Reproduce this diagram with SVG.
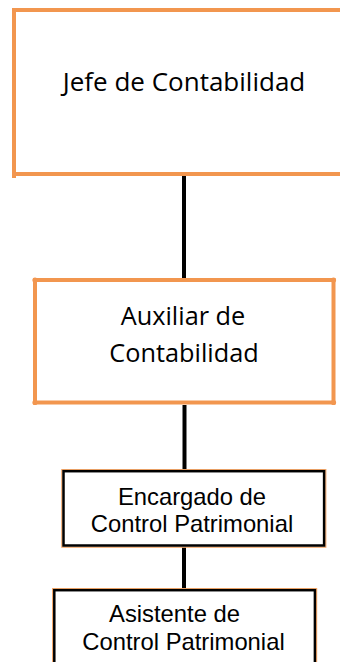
<svg xmlns="http://www.w3.org/2000/svg" width="340" height="662" viewBox="0 0 340 662">
  <style>
    .obox { fill: #ffffff; stroke: #f2964f; stroke-width: 4; }
    .dot { fill: #f2964f; }
    .outline { fill: #ffffff; stroke: #f5a86a; stroke-width: 1.2; }
    .bbox { fill: #ffffff; stroke: #000000; stroke-width: 2.5; }
    .cal { font-family: "Open Sans", "Noto Sans", sans-serif; font-size: 25.3px; fill: #000000; text-anchor: middle; }
    .ari { font-family: "Liberation Sans", Arial, sans-serif; font-size: 23.8px; fill: #000000; text-anchor: middle; }
    .conn { stroke: #000000; stroke-width: 4; fill: none; }
  </style>
  <rect width="340" height="662" fill="#ffffff"/>
  <g id="connectors">
    <line class="conn" x1="184" y1="176" x2="184" y2="278"/>
    <line class="conn" x1="184.5" y1="405" x2="184.5" y2="469"/>
    <line class="conn" x1="184" y1="547" x2="184" y2="588"/>
  </g>
  <g id="node-jefe">
    <rect class="obox" x="14" y="10" width="342" height="164" fill="#fcfefc"/>
    <rect class="dot" x="12" y="172" width="4" height="6"/>
    <text class="cal" x="184" y="91" style="font-size:26px">Jefe de Contabilidad</text>
  </g>
  <g id="node-auxiliar">
    <rect class="obox" x="35" y="280" width="298.5" height="122.5"/>
    <circle class="dot" cx="35" cy="280" r="2.6"/>
    <circle class="dot" cx="333.5" cy="280" r="2.6"/>
    <circle class="dot" cx="35" cy="402.5" r="2.6"/>
    <circle class="dot" cx="333.5" cy="402.5" r="2.6"/>
    <text class="cal" x="183" y="325">Auxiliar de</text>
    <text class="cal" x="184" y="362">Contabilidad</text>
  </g>
  <g id="node-encargado">
    <rect class="outline" x="61.8" y="469.6" width="264" height="77.6"/>
    <rect class="bbox" x="63.5" y="471.2" width="260.6" height="74.3"/>
    <text class="ari" x="192" y="505">Encargado de</text>
    <text class="ari" x="192" y="532">Control Patrimonial</text>
  </g>
  <g id="node-asistente">
    <rect class="outline" x="52.6" y="588.6" width="264" height="90"/>
    <rect class="bbox" x="54.3" y="590.2" width="260.6" height="90"/>
    <text class="ari" x="174.5" y="622">Asistente de</text>
    <text class="ari" x="183.5" y="650">Control Patrimonial</text>
  </g>
</svg>
